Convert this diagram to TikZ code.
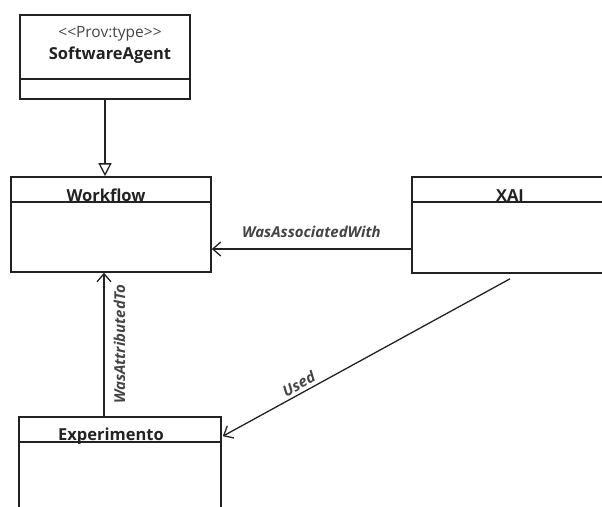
\documentclass[tikz,border=0pt]{standalone}
\usepackage{fontspec}
\setmainfont{Open Sans}
\usetikzlibrary{arrows.meta,calc}
\definecolor{ink}{HTML}{222222}
\definecolor{stereo}{HTML}{444444}
\begin{document}
\begin{tikzpicture}[x=1pt,y=-1pt,
  classbox/.style={draw=ink,line width=1.6pt,rectangle,inner sep=0pt},
  classname/.style={font=\fontsize{16.5}{18}\selectfont\bfseries,text=ink,inner sep=0pt,anchor=base},
  rel/.style={draw=ink,line width=1.3pt},
  reltip/.style={-{Straight Barb[length=8pt,width=14pt,line width=1.3pt]}},
  gentip/.style={-{Triangle[open,length=13pt,width=13pt,line width=1.3pt]}},
  rellabel/.style={font=\fontsize{15}{17}\selectfont\bfseries\itshape,text=stereo,inner sep=0pt}]
  \useasboundingbox (0,0) rectangle (602,506);

  % class boxes
  \node[classbox,minimum width=170pt,minimum height=84pt] (sa) at (105,57) {};
  \node[classbox,minimum width=200pt,minimum height=95pt] (wf) at (111,224.5) {};
  \node[classbox,minimum width=196pt,minimum height=96pt] (xai) at (510,225) {};
  \node[classbox,minimum width=202pt,minimum height=110pt] (exp) at (120,472) {};

  % compartment dividers
  \draw[classbox] ($(sa.north west)+(0,65)$) -- ($(sa.north east)+(0,65)$);
  \draw[classbox] ($(wf.north west)+(0,26)$) -- ($(wf.north east)+(0,26)$);
  \draw[classbox] ($(xai.north west)+(0,26)$) -- ($(xai.north east)+(0,26)$);
  \draw[classbox] ($(exp.north west)+(0,26)$) -- ($(exp.north east)+(0,26)$);

  % class names
  \node[font=\fontsize{15.5}{17}\selectfont,text=stereo,inner sep=0pt,anchor=base] (sastereo) at (110,37) {{<}{<}Prov:type{>}{>}};
  \node[classname] (saname) at (110,59) {SoftwareAgent};
  \node[classname] (wfname) at (106,201) {Workflow};
  \node[classname] (xainame) at (510,201) {XAI};
  \node[classname] (expname) at (111,440) {Experimento};

  % generalization
  \draw[rel,gentip] (sa.south) -- (sa.south |- wf.north);

  % associations
  \coordinate (assocA) at ($(xai.west)+(0,24)$);
  \draw[rel,reltip] (assocA) -- (assocA -| wf.east)
    node[rellabel,pos=0.5,above=11pt] (lassoc) {WasAssociatedWith};

  \coordinate (attrA) at ($(exp.north)+(-16,0)$);
  \draw[rel,reltip] (attrA) -- (attrA |- wf.south)
    node[rellabel,pos=0.5,rotate=90,below=9pt,anchor=north] (lattr) {WasAttributedTo};

  \coordinate (usedA) at ($(xai.south)+(0,5)$);
  \coordinate (usedB) at ($(exp.north east)+(1,20)$);
  \draw[rel,reltip] (usedA) -- (usedB)
    node[rellabel,pos=0.72,sloped,above=3pt] (lused) {Used};
\end{tikzpicture}
\end{document}
